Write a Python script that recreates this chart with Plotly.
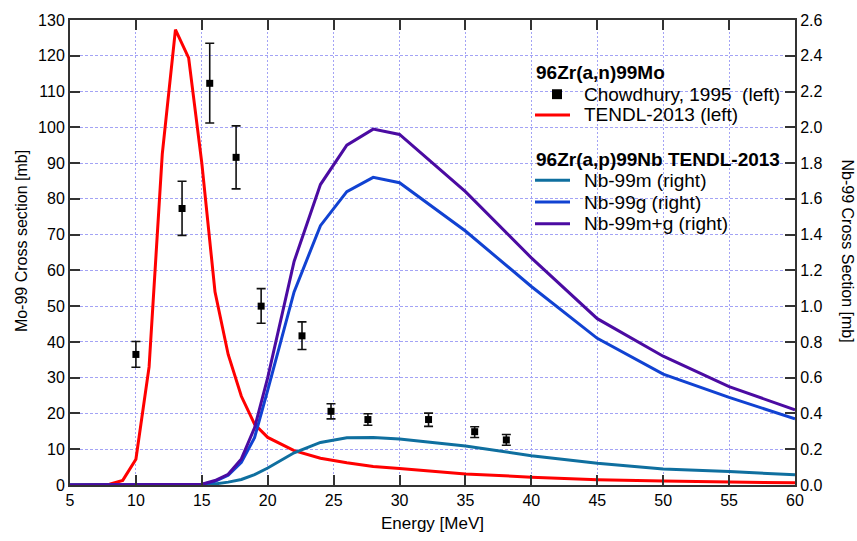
import plotly.graph_objects as go

# --- 96Zr(a,n)99Mo : experimental data (Chowdhury, 1995) ---
exp_energy = [10.0, 13.5, 15.6, 17.6, 19.5, 22.6, 24.8, 27.6, 32.2, 35.7, 38.1]
exp_xs = [36.5, 77.3, 112.3, 91.6, 50.0, 41.7, 20.6, 18.3, 18.3, 14.9, 12.6]
exp_err_plus = [3.6, 7.6, 11.2, 8.8, 4.9, 3.9, 2.1, 1.6, 1.8, 1.4, 1.5]
exp_err_minus = [3.6, 7.5, 11.1, 8.8, 4.8, 3.8, 2.1, 1.6, 1.9, 1.6, 1.5]

# --- TENDL-2013 energy grid (MeV) ---
tendl_energy = [5, 6, 7, 8, 9, 10, 11, 12, 13, 14, 15, 16, 17, 18, 19, 20,
                22, 24, 26, 28, 30, 35, 40, 45, 50, 55, 60]

# 96Zr(a,n)99Mo TENDL-2013 [mb], left axis
mo99_tendl = [0, 0, 0, 0.2, 1.3, 7.2, 33.0, 92.5, 127.3, 119.4, 90.0, 54.0,
              36.5, 24.8, 17.0, 13.3, 9.6, 7.5, 6.2, 5.2, 4.6, 3.1, 2.2,
              1.5, 1.1, 0.85, 0.6]

# 96Zr(a,p)99Nb TENDL-2013 [mb], right axis
nb99m = [0, 0, 0, 0, 0, 0, 0, 0, 0, 0, 0.001, 0.006, 0.016, 0.031, 0.058,
         0.095, 0.18, 0.238, 0.264, 0.266, 0.257, 0.218, 0.164, 0.121,
         0.09, 0.075, 0.057]
nb99g = [0, 0, 0, 0, 0, 0, 0, 0, 0, 0, 0.003, 0.02, 0.055, 0.127, 0.265,
         0.53, 1.08, 1.45, 1.64, 1.72, 1.69, 1.42, 1.11, 0.82, 0.62, 0.49,
         0.37]
nb99mg = [0, 0, 0, 0, 0, 0, 0, 0, 0, 0, 0.004, 0.025, 0.06, 0.146, 0.32,
          0.60, 1.25, 1.68, 1.90, 1.99, 1.96, 1.64, 1.27, 0.93, 0.72, 0.55,
          0.42]

FONT = "Liberation Sans, Arial, sans-serif"
AXIS_COLOR = "#333333"
GRID_COLOR = "#a3a3f5"
C_RED, C_TEAL, C_BLUE, C_PURPLE = "#ff0000", "#0f6f9f", "#1142d2", "#4b0ba2"

# page / plot-area geometry in pixels
W, H = 857, 541
ML, MR, MT, MB = 70, 62, 15, 56
PW, PH = W - ML - MR, H - MT - MB


def px(x):
    return (x - ML) / PW


def py(y):
    return (H - MB - y) / PH


fig = go.Figure()

fig.add_trace(go.Scatter(
    x=tendl_energy, y=mo99_tendl, mode="lines",
    name="TENDL-2013 (left)", line=dict(color=C_RED, width=3),
))
fig.add_trace(go.Scatter(
    x=exp_energy, y=exp_xs, mode="markers",
    name="Chowdhury, 1995 (left)",
    marker=dict(symbol="square", size=7, color="black"),
    error_y=dict(type="data", symmetric=False, array=exp_err_plus,
                 arrayminus=exp_err_minus, color="#111111",
                 thickness=1.6, width=4.5),
))
fig.add_trace(go.Scatter(
    x=tendl_energy, y=nb99m, mode="lines", yaxis="y2",
    name="Nb-99m (right)", line=dict(color=C_TEAL, width=3),
))
fig.add_trace(go.Scatter(
    x=tendl_energy, y=nb99g, mode="lines", yaxis="y2",
    name="Nb-99g (right)", line=dict(color=C_BLUE, width=3),
))
fig.add_trace(go.Scatter(
    x=tendl_energy, y=nb99mg, mode="lines", yaxis="y2",
    name="Nb-99m+g (right)", line=dict(color=C_PURPLE, width=3),
))

axis_common = dict(
    showline=True, linecolor=AXIS_COLOR, linewidth=2,
    ticks="inside", ticklen=10, tickwidth=2, tickcolor=AXIS_COLOR,
    tickfont=dict(family=FONT, size=16, color="black"),
    zeroline=False,
)

# ---- legend box drawn with shapes and annotations ----
LEG_FONT = dict(family=FONT, size=19, color="black")
shapes = [
    dict(type="rect", xref="paper", yref="paper", layer="between",
         x0=px(527), x1=px(793), y0=py(233), y1=py(52),
         fillcolor="white", line=dict(width=0)),
    dict(type="rect", xref="paper", yref="paper", layer="above",
         x0=px(552), x1=px(562), y0=py(95), y1=py(85),
         fillcolor="black", line=dict(width=0)),
]
legend_lines = [(111, C_RED), (177, C_TEAL), (199, C_BLUE), (221, C_PURPLE)]
for ly, col in legend_lines:
    shapes.append(dict(type="line", xref="paper", yref="paper", layer="above",
                       x0=px(535), x1=px(570), y0=py(ly), y1=py(ly),
                       line=dict(color=col, width=3)))

legend_text = [
    ("<b>96Zr(a,n)99Mo</b>", 534, 68),
    ("Chowdhury, 1995&nbsp; (left)", 582, 90),
    ("TENDL-2013 (left)", 582, 111),
    ("<b>96Zr(a,p)99Nb TENDL-2013</b>", 534, 156),
    ("Nb-99m (right)", 582, 177),
    ("Nb-99g (right)", 582, 199),
    ("Nb-99m+g (right)", 582, 221),
]
annotations = [
    dict(text=t, x=px(x), y=py(y), xref="paper", yref="paper",
         xanchor="left", yanchor="middle", showarrow=False, font=LEG_FONT)
    for t, x, y in legend_text
]

annotations += [
    dict(text="Energy [MeV]", x=px(432), y=py(524), xref="paper", yref="paper",
         xanchor="center", yanchor="middle", showarrow=False,
         font=dict(family=FONT, size=17, color="black")),
    dict(text="Mo-99 Cross section [mb]", x=px(21.5), y=py(239),
         xref="paper", yref="paper", xanchor="center", yanchor="middle",
         showarrow=False, textangle=-90,
         font=dict(family=FONT, size=16, color="black")),
    dict(text="Nb-99 Cross Section [mb]", x=px(847), y=py(248),
         xref="paper", yref="paper", xanchor="center", yanchor="middle",
         showarrow=False, textangle=90,
         font=dict(family=FONT, size=16, color="black")),
]

fig.update_layout(
    width=W, height=H,
    margin=dict(l=ML, r=MR, t=MT, b=MB),
    paper_bgcolor="white", plot_bgcolor="white",
    font=dict(family=FONT, color="black"),
    showlegend=False,
    xaxis=dict(
        **axis_common, range=[5, 60], tick0=5, dtick=5, mirror="ticks",
        showgrid=True, gridcolor=GRID_COLOR, gridwidth=1, griddash="2px,2px",
    ),
    yaxis=dict(
        **axis_common, range=[0, 130], tick0=0, dtick=10,
        showgrid=True, gridcolor=GRID_COLOR, gridwidth=1, griddash="3px,2px",
    ),
    yaxis2=dict(
        **axis_common, range=[0, 2.6], tick0=0, dtick=0.2, tickformat=".1f",
        overlaying="y", side="right", showgrid=False,
    ),
    shapes=shapes,
    annotations=annotations,
)

fig.write_html("out.html")
